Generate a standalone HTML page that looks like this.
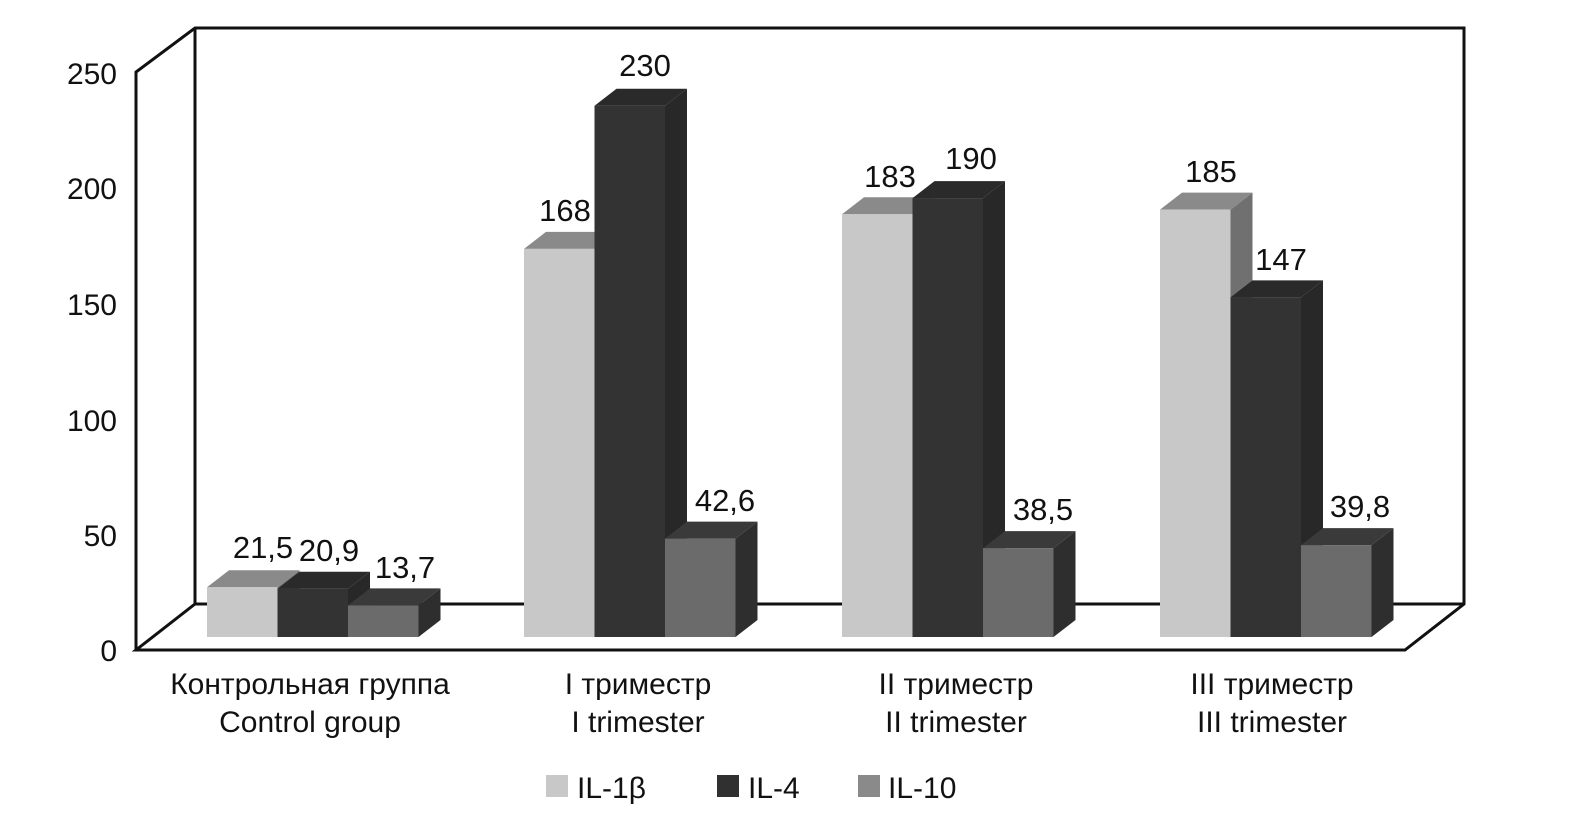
<!DOCTYPE html>
<html><head><meta charset="utf-8"><style>body{margin:0;background:#fff}svg{display:block}text{font-family:"Liberation Sans",sans-serif;fill:#111}</style></head><body>
<svg width="1573" height="820" viewBox="0 0 1573 820">
<g fill="none" stroke="#111" stroke-width="3">
<polyline points="136,650 136,72 195,28 1464,28 1464,604 1405,650 136,650 195,604 1464,604"/>
<line x1="195" y1="28" x2="195" y2="604"/>
</g>
<g font-size="30" text-anchor="end">
<text x="117" y="661">0</text><text x="117" y="546">50</text><text x="117" y="431">100</text><text x="117" y="315">150</text><text x="117" y="199">200</text><text x="117" y="84">250</text>
</g>
<g>
<polygon fill="#707070" points="277.5,587.3 299.5,570.3 299.5,620 277.5,637"/><polygon fill="#8a8a8a" points="207,587.3 229,570.3 299.5,570.3 277.5,587.3"/><rect fill="#c8c8c8" x="207" y="587.3" width="70.5" height="49.7"/>
<polygon fill="#282828" points="348,588.7 370,571.7 370,620 348,637"/><polygon fill="#2a2a2a" points="277.5,588.7 299.5,571.7 370,571.7 348,588.7"/><rect fill="#333" x="277.5" y="588.7" width="70.5" height="48.3"/>
<polygon fill="#2e2e2e" points="418.5,605.4 440.5,588.4 440.5,620 418.5,637"/><polygon fill="#3a3a3a" points="348,605.4 370,588.4 440.5,588.4 418.5,605.4"/><rect fill="#6b6b6b" x="348" y="605.4" width="70.5" height="31.6"/>

<polygon fill="#707070" points="594.5,248.9 616.5,231.9 616.5,620 594.5,637"/><polygon fill="#8a8a8a" points="524,248.9 546,231.9 616.5,231.9 594.5,248.9"/><rect fill="#c8c8c8" x="524" y="248.9" width="70.5" height="388.1"/>
<polygon fill="#282828" points="665,105.7 687,88.7 687,620 665,637"/><polygon fill="#2a2a2a" points="594.5,105.7 616.5,88.7 687,88.7 665,105.7"/><rect fill="#333" x="594.5" y="105.7" width="70.5" height="531.3"/>
<polygon fill="#2e2e2e" points="735.5,538.6 757.5,521.6 757.5,620 735.5,637"/><polygon fill="#3a3a3a" points="665,538.6 687,521.6 757.5,521.6 735.5,538.6"/><rect fill="#6b6b6b" x="665" y="538.6" width="70.5" height="98.4"/>

<polygon fill="#707070" points="912.5,214.3 934.5,197.3 934.5,620 912.5,637"/><polygon fill="#8a8a8a" points="842,214.3 864,197.3 934.5,197.3 912.5,214.3"/><rect fill="#c8c8c8" x="842" y="214.3" width="70.5" height="422.7"/>
<polygon fill="#282828" points="983,198.1 1005,181.1 1005,620 983,637"/><polygon fill="#2a2a2a" points="912.5,198.1 934.5,181.1 1005,181.1 983,198.1"/><rect fill="#333" x="912.5" y="198.1" width="70.5" height="438.9"/>
<polygon fill="#2e2e2e" points="1053.5,548.1 1075.5,531.1 1075.5,620 1053.5,637"/><polygon fill="#3a3a3a" points="983,548.1 1005,531.1 1075.5,531.1 1053.5,548.1"/><rect fill="#6b6b6b" x="983" y="548.1" width="70.5" height="88.9"/>

<polygon fill="#707070" points="1230.5,209.6 1252.5,192.6 1252.5,620 1230.5,637"/><polygon fill="#8a8a8a" points="1160,209.6 1182,192.6 1252.5,192.6 1230.5,209.6"/><rect fill="#c8c8c8" x="1160" y="209.6" width="70.5" height="427.4"/>
<polygon fill="#282828" points="1301,297.4 1323,280.4 1323,620 1301,637"/><polygon fill="#2a2a2a" points="1230.5,297.4 1252.5,280.4 1323,280.4 1301,297.4"/><rect fill="#333" x="1230.5" y="297.4" width="70.5" height="339.6"/>
<polygon fill="#2e2e2e" points="1371.5,545.1 1393.5,528.1 1393.5,620 1371.5,637"/><polygon fill="#3a3a3a" points="1301,545.1 1323,528.1 1393.5,528.1 1371.5,545.1"/><rect fill="#6b6b6b" x="1301" y="545.1" width="70.5" height="91.9"/>
</g>
<g font-size="31" text-anchor="middle">
<text x="263" y="558">21,5</text><text x="329" y="561">20,9</text><text x="405" y="578">13,7</text>
<text x="565" y="221">168</text><text x="645" y="76">230</text><text x="725" y="511">42,6</text>
<text x="890" y="187">183</text><text x="971" y="169">190</text><text x="1043" y="520">38,5</text>
<text x="1211" y="182">185</text><text x="1281" y="270">147</text><text x="1360" y="517">39,8</text>
</g>
<g font-size="30" text-anchor="middle">
<text x="310" y="694">Контрольная группа</text><text x="310" y="732">Control group</text>
<text x="638" y="694">I триместр</text><text x="638" y="732">I trimester</text>
<text x="956" y="694">II триместр</text><text x="956" y="732">II trimester</text>
<text x="1272" y="694">III триместр</text><text x="1272" y="732">III trimester</text>
</g>
<rect x="546" y="775" width="22" height="22" fill="#c8c8c8"/><text x="577" y="798" font-size="30">IL-1β</text>
<rect x="717" y="775" width="22" height="22" fill="#303030"/><text x="748" y="798" font-size="30">IL-4</text>
<rect x="858" y="775" width="22" height="22" fill="#8a8a8a"/><text x="888" y="798" font-size="30">IL-10</text>
</svg>
</body></html>
